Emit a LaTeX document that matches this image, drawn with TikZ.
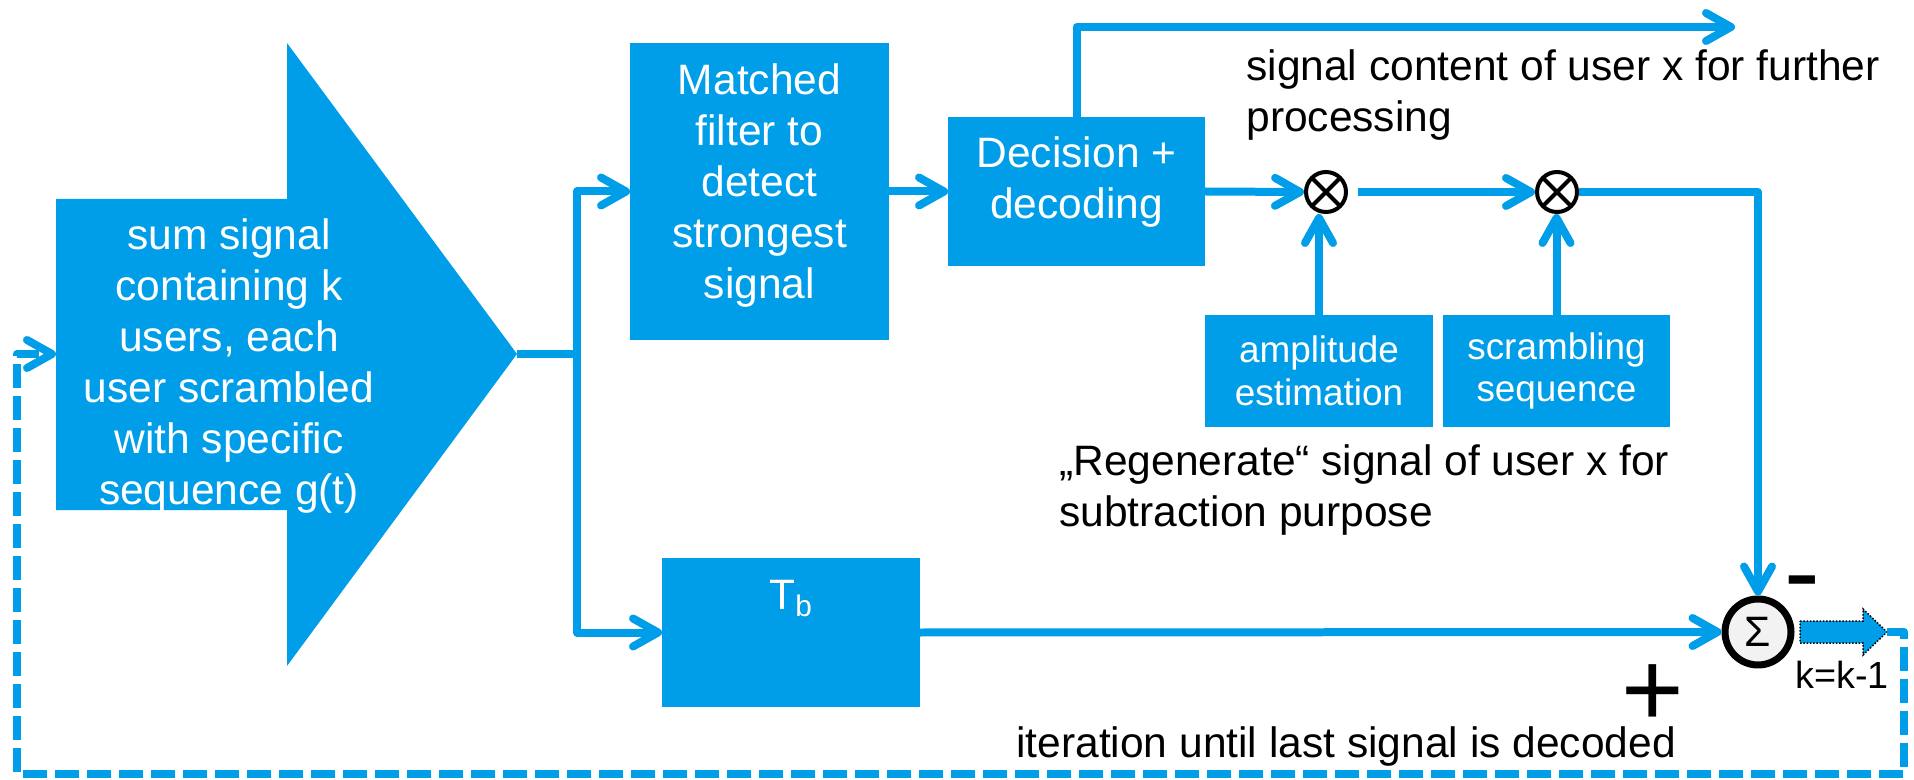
\documentclass[tikz,border=0pt]{standalone}
\usepackage{fontspec}
\setmainfont{Liberation Sans}
\usetikzlibrary{arrows.meta, positioning, calc}
\definecolor{cblue}{RGB}{0,158,232}
\definecolor{clight}{RGB}{242,242,242}

\begin{document}
\begin{tikzpicture}[
    x=0.02cm, y=-0.02cm,
    >={Straight Barb[length=0.5cm, width=0.56cm, round]},
    every node/.style={font=\fontsize{24.2}{29}\selectfont},
    block/.style={fill=cblue, inner sep=0, outer sep=0},
    intext/.style={text=white, align=center, inner sep=0},
    small/.style={font=\fontsize{21}{24.4}\selectfont},
    flow/.style={cblue, line width=0.16cm, line join=round},
    feedback/.style={flow, dash pattern=on 0.48cm off 0.16cm},
    mult/.style={circle, draw=black, fill=white, line width=0.08cm, minimum size=0.8cm, inner sep=0,
        path picture={\draw[line width=0.08cm]
            (path picture bounding box.north west) -- (path picture bounding box.south east)
            (path picture bounding box.north east) -- (path picture bounding box.south west);}},
    sumnode/.style={circle, draw=black, fill=clight, line width=0.14cm, minimum size=1.32cm, inner sep=0},
]
    \useasboundingbox (0,0) rectangle (1914,780);

    % Input: sum signal as big arrow
    \fill[cblue] (56,199) -- (287,199) -- (287,43) -- (517,354) -- (287,666) -- (287,510) -- (56,510) -- cycle;
    \coordinate (src) at (517,354);
    \coordinate (in) at (56,354);
    \node[intext] (srctxt) at (229,366) {sum signal\\containing k\\users, each\\user scrambled\\with specific\\sequence g(t)};

    % Upper branch
    \node[block, minimum width=5.18cm, minimum height=5.94cm] (mf) at (759.5,191.5) {};
    \node[intext, below=0.41cm of mf.north] (mftxt) {Matched\\filter to\\detect\\strongest\\signal};
    \node[block, minimum width=5.14cm, minimum height=2.98cm] (dec) at (1076.5,191.5) {};
    \node[intext, below=0.39cm of dec.north] (dectxt) {Decision +\\decoding};

    % Regeneration
    \node[mult] (m1) at (1326,192) {};
    \node[mult] (m2) at (1557,192) {};
    \node[block, intext, small, minimum width=4.56cm, minimum height=2.24cm] (amp) at (1319,371) {amplitude\\estimation};
    \node[block, intext, small, minimum width=4.54cm, minimum height=2.24cm] (scr) at (1556.5,371) {scrambling\\sequence};

    % Lower branch
    \node[block, minimum width=5.16cm, minimum height=2.98cm] (tb) at (791,632.5) {};
    \node[intext, below=0.44cm of tb.north] (tbtxt) {T\textsubscript{b}};
    \node[sumnode] (sum) at (1758,632) {Σ};

    % Connectors
    \coordinate (split) at (577,354);
    \coordinate (out) at (1735,27);
    \draw[flow] (src) -- (split);
    \draw[flow, ->] (split) |- (mf.west);
    \draw[flow, ->] (split) |- (tb.west);
    \draw[flow, ->] (mf.east) -- (dec.west);
    \draw[flow, ->] (dec.north) |- (out);
    \draw[flow, ->] (dec.east) -- (m1.west);
    \draw[flow, ->, shorten <=0.2cm] (m1.east) -- (m2.west);
    \draw[flow, ->] (m2.east) -| (sum.north);
    \draw[flow, ->] (amp.north) -- (amp.north |- m1.south);
    \draw[flow, ->] (scr.north) -- (scr.north |- m2.south);
    \draw[flow, ->] (tb.east) -- (sum.west);

    % k = k-1 and feedback loop
    \coordinate (ktip) at (1887,632);
    \filldraw[fill=cblue, draw=black, densely dotted, line width=0.03cm]
        (1800,621) -- (1863,621) -- (1863,609) -- (ktip) -- (1863,655) -- (1863,643) -- (1800,643) -- cycle;
    \draw[feedback, ->] (ktip) -| (1904,774) -- (17,774) |- (in);

    % Labels
    \node[anchor=north west, align=left, inner sep=0] (outtxt) at (1246,49) {signal content of user x for further\\processing};
    \node[anchor=north west, align=left, inner sep=0] (regtxt) at (1059,444) {„Regenerate“ signal of user x for\\subtraction purpose};
    \node[anchor=base west, inner sep=0] (itertxt) at (1016,757) {iteration until last signal is decoded};
    \node[anchor=base west, inner sep=0, font=\fontsize{21.5}{26}\selectfont] (ktxt) at (1795,688) {k=k-1};
    \node[anchor=base, inner sep=0, font=\fontsize{61}{61}\selectfont] (plus) at (1653,726) {+};
    \node[anchor=base, inner sep=0, font=\fontsize{61}{61}\selectfont] (minus) at (1802,608) {-};
\end{tikzpicture}
\end{document}
